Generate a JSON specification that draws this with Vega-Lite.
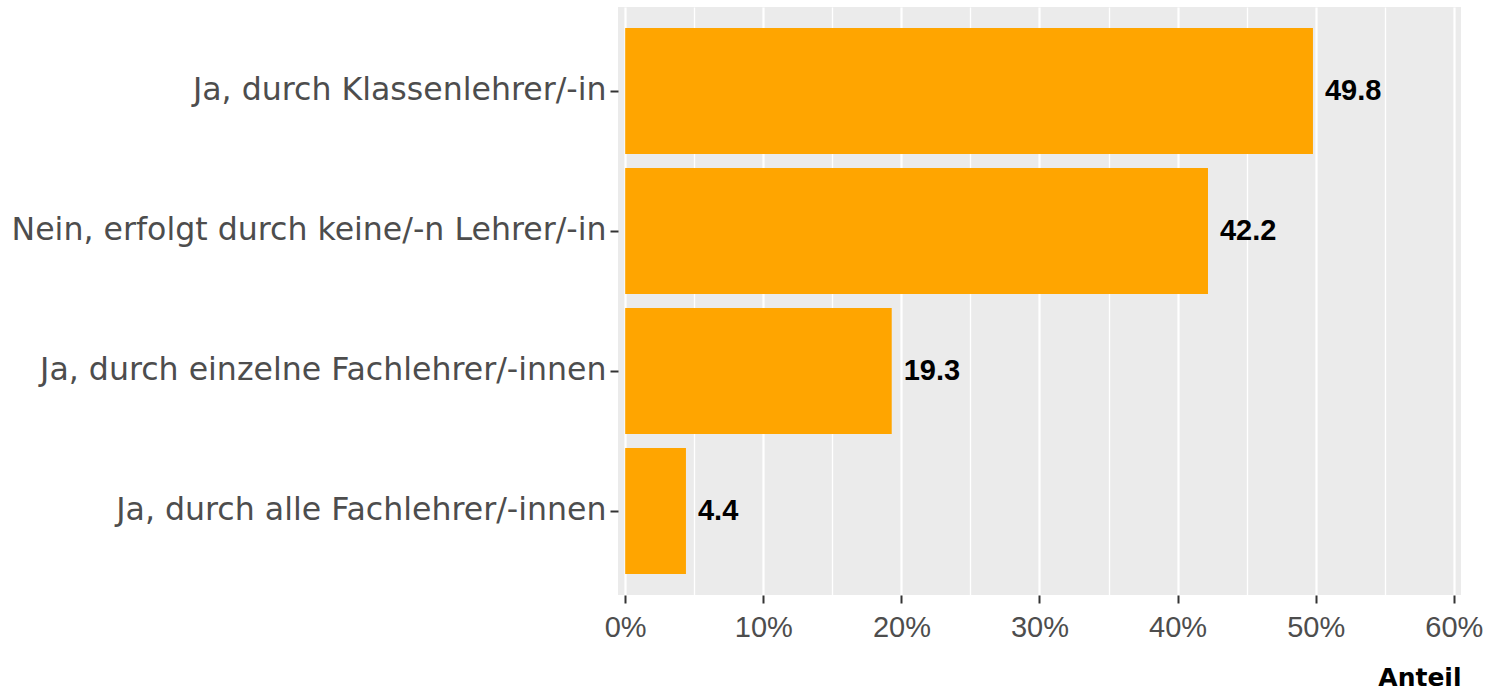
{
  "$schema": "https://vega.github.io/schema/vega-lite/v6.json",
  "width": 843,
  "height": 588,
  "autosize": {"type": "none"},
  "padding": {"left": 618, "top": 7, "right": 25, "bottom": 95},
  "background": "white",
  "config": {
    "view": {"fill": "#EBEBEB", "stroke": null},
    "font": "Liberation Sans"
  },
  "data": {
    "values": [
      {"kategorie": "Ja, durch Klassenlehrer/-in", "anteil": 49.8},
      {"kategorie": "Nein, erfolgt durch keine/-n Lehrer/-in", "anteil": 42.2},
      {"kategorie": "Ja, durch einzelne Fachlehrer/-innen", "anteil": 19.3},
      {"kategorie": "Ja, durch alle Fachlehrer/-innen", "anteil": 4.4}
    ]
  },
  "encoding": {
    "y": {
      "field": "kategorie",
      "type": "nominal",
      "sort": null,
      "scale": {"paddingInner": 0.1, "paddingOuter": 0.15},
      "axis": {
        "title": null,
        "domain": false,
        "grid": false,
        "labelFont": "DejaVu Sans",
        "labelFontSize": 31.6,
        "labelColor": "#4D4D4D",
        "labelPadding": 4,
        "labelLimit": 700,
        "tickColor": "#333333",
        "tickWidth": 2,
        "tickSize": 8
      }
    },
    "x": {
      "field": "anteil",
      "type": "quantitative",
      "scale": {"domain": [-0.52, 60.52], "nice": false, "zero": false},
      "axis": {
        "title": "Anteil",
        "titleFont": "DejaVu Sans",
        "titleFontSize": 25,
        "titleFontWeight": "bold",
        "titleColor": "#000000",
        "titleAnchor": "end",
        "titlePadding": 23,
        "values": [0, 5, 10, 15, 20, 25, 30, 35, 40, 45, 50, 55, 60],
        "labelExpr": "datum.value % 10 === 0 ? datum.value + '%' : ''",
        "labelFont": "Liberation Sans",
        "labelFontSize": 29,
        "labelColor": "#4D4D4D",
        "labelPadding": 10,
        "labelFlush": false,
        "labelOverlap": false,
        "domain": false,
        "grid": true,
        "gridColor": "#FFFFFF",
        "gridOpacity": 1,
        "gridWidth": {"condition": {"test": "datum.value % 10 === 0", "value": 2.2}, "value": 1.3},
        "tickColor": "#333333",
        "tickWidth": 2,
        "tickSize": 8,
        "tickOpacity": {"condition": {"test": "datum.value % 10 === 0", "value": 1}, "value": 0}
      }
    }
  },
  "layer": [
    {
      "mark": {"type": "bar", "color": "#FFA500"}
    },
    {
      "mark": {
        "type": "text",
        "align": "left",
        "baseline": "middle",
        "dx": 12,
        "font": "Liberation Sans",
        "fontSize": 29,
        "fontWeight": "bold",
        "color": "#000000"
      },
      "encoding": {
        "text": {"field": "anteil", "type": "quantitative", "format": ".1f"}
      }
    }
  ]
}
